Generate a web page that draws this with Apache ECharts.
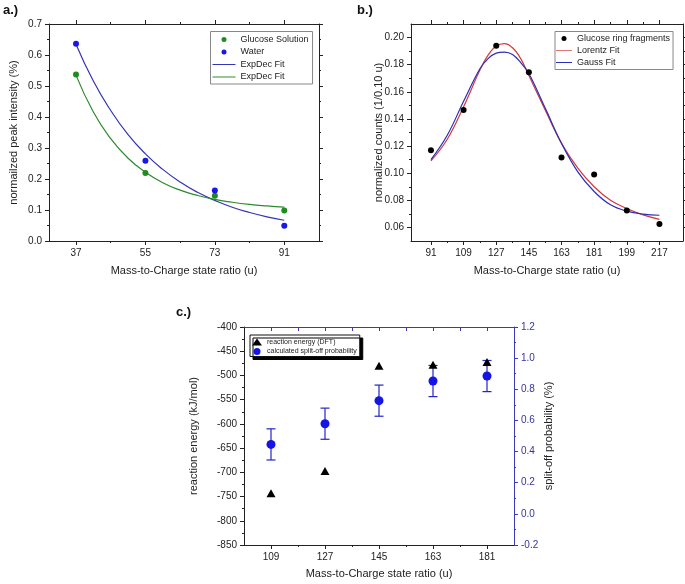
<!DOCTYPE html>
<html>
<head>
<meta charset="utf-8">
<script src="https://cdn.jsdelivr.net/npm/echarts@6/dist/echarts.min.js"></script>
<style>html,body{margin:0;padding:0;background:#fff}#c{width:685px;height:584px}</style>
</head>
<body>
<div id="c"></div>
<script>
// ---- Panel a data ----
const aX = [37, 55, 73, 91];
const aGlucose = [0.537, 0.219, 0.146, 0.098];
const aWater = [0.636, 0.259, 0.163, 0.049];
const aFitX = [37, 41.5, 46, 50.5, 55, 59.5, 64, 68.5, 73, 77.5, 82, 86.5, 91];
const aFitWater = [0.635, 0.516, 0.421, 0.343, 0.281, 0.231, 0.190, 0.157, 0.131, 0.109, 0.092, 0.078, 0.067];
const aFitGlucose = [0.535, 0.416, 0.330, 0.267, 0.222, 0.188, 0.164, 0.147, 0.134, 0.125, 0.118, 0.113, 0.109];
const aXTicks = [37, 55, 73, 91];
const aXMinor = [46, 64, 82];
const aYTicks = [0, 0.1, 0.2, 0.3, 0.4, 0.5, 0.6, 0.7];
const aYMinor = [0.05, 0.15, 0.25, 0.35, 0.45, 0.55, 0.65];

// ---- Panel b data ----
const bX = [91, 109, 127, 145, 163, 181, 199, 217];
const bCounts = [0.117, 0.1465, 0.194, 0.1745, 0.1115, 0.099, 0.0725, 0.0625];
const bFitX = [91, 100, 109, 118, 122.5, 127, 131.5, 136, 140.5, 145, 154, 163, 172, 181, 190, 199, 208, 217];
const bLorentz = [0.109, 0.125, 0.149, 0.176, 0.187, 0.1937, 0.1955, 0.1925, 0.1845, 0.172, 0.1466, 0.122, 0.1037, 0.090, 0.080, 0.074, 0.0693, 0.066];
const bGauss = [0.110, 0.128, 0.153, 0.177, 0.1845, 0.1885, 0.1893, 0.1875, 0.1815, 0.1735, 0.148, 0.122, 0.101, 0.0865, 0.0767, 0.072, 0.0698, 0.069];
const bXTicks = [91, 109, 127, 145, 163, 181, 199, 217];
const bXMinor = [100, 118, 136, 154, 172, 190, 208];
const bYTicks = [0.06, 0.08, 0.10, 0.12, 0.14, 0.16, 0.18, 0.20];
const bYMinor = [0.07, 0.09, 0.11, 0.13, 0.15, 0.17, 0.19];

// ---- Panel c data ----
const cX = [109, 127, 145, 163, 181];
const cEnergy = [-743, -697, -480, -478, -472];
const cProb = [0.446, 0.579, 0.727, 0.853, 0.885];
const cErr = [0.10, 0.10, 0.10, 0.10, 0.10];
const cXTicks = [109, 127, 145, 163, 181];
const cXMinor = [118, 136, 154, 172];
const cXTop = [109, 118, 127, 136, 145, 154, 163, 172, 181];
const cYLTicks = [-850, -800, -750, -700, -650, -600, -550, -500, -450, -400];
const cYLMinor = [-825, -775, -725, -675, -625, -575, -525, -475, -425];
const cYRTicks = [-0.2, 0, 0.2, 0.4, 0.6, 0.8, 1.0, 1.2];
const cYRMinor = [-0.1, 0.1, 0.3, 0.5, 0.7, 0.9, 1.1];

const FONT = 'Liberation Sans, Arial, sans-serif';
const AXC = '#222';
const CBLUE = '#3a3ab8';

const xAxes = [], yAxes = [];
function addAxis(list, grid, pos, range, majors, minors, o) {
  o = o || {};
  const color = o.color || AXC;
  const common = { type: 'value', gridIndex: grid, position: pos, min: range[0], max: range[1],
    splitLine: { show: false }, scale: false };
  const major = Object.assign({}, common, {
    axisLine: { show: true, onZero: false, lineStyle: { color: color, width: 1 } },
    axisTick: { show: true, inside: !!o.inside, length: o.len || 4, customValues: majors, lineStyle: { color: color, width: 1 } },
    axisLabel: o.labels ? { show: true, customValues: majors, formatter: o.fmt, color: o.labelColor || '#222',
      fontSize: 10, margin: o.margin || 7, fontFamily: FONT, showMinLabel: true, showMaxLabel: true } : { show: false },
    name: o.name || '', nameLocation: 'middle', nameGap: o.nameGap || 0, nameRotate: o.nameRotate || 0,
    nameMoveOverlap: false,
    nameTextStyle: { fontSize: 11, fontFamily: FONT, color: '#222' }
  });
  list.push(major);
  const idx = list.length - 1;
  if (minors && minors.length) {
    list.push(Object.assign({}, common, {
      axisLine: { show: false, onZero: false },
      axisTick: { show: true, inside: !!o.inside, length: o.minorLen || 2, customValues: minors, lineStyle: { color: color, width: 1 } },
      axisLabel: { show: false }
    }));
  }
  return idx;
}

// Panel a axes
const aXi = addAxis(xAxes, 0, 'bottom', [30, 100], aXTicks, aXMinor,
  { labels: true, fmt: v => String(v), name: 'Mass-to-Charge state ratio (u)', nameGap: 24.5 });
addAxis(xAxes, 0, 'top', [30, 100], aXTicks, aXMinor, {});
const aYi = addAxis(yAxes, 0, 'left', [0, 0.7], aYTicks, aYMinor,
  { labels: true, fmt: v => v.toFixed(1), name: 'normailzed peak intensity (%)', nameGap: 29.5, nameRotate: 90 });
addAxis(yAxes, 0, 'right', [0, 0.7], aYTicks, aYMinor, {});

// Panel b axes
const bXi = addAxis(xAxes, 1, 'bottom', [80, 230], bXTicks, bXMinor,
  { labels: true, fmt: v => String(v), name: 'Mass-to-Charge state ratio (u)', nameGap: 24.5 });
addAxis(xAxes, 1, 'top', [80, 230], bXTicks, bXMinor, {});
const bYi = addAxis(yAxes, 1, 'left', [0.05, 0.21], bYTicks, bYMinor,
  { labels: true, fmt: v => v.toFixed(2), name: 'normalized counts (1/0.10 u)', nameGap: 26.5, nameRotate: 90 });
addAxis(yAxes, 1, 'right', [0.05, 0.21], bYTicks, bYMinor, {});

// Panel c axes
const cXi = addAxis(xAxes, 2, 'bottom', [100, 190], cXTicks, cXMinor,
  { labels: true, fmt: v => String(v), name: 'Mass-to-Charge state ratio (u)', nameGap: 23.5 });
addAxis(xAxes, 2, 'top', [100, 190], cXTop, [], { color: CBLUE, inside: true });
const cYLi = addAxis(yAxes, 2, 'left', [-850, -400], cYLTicks, cYLMinor,
  { labels: true, fmt: v => String(v), name: 'reaction energy (kJ/mol)', nameGap: 44.5, nameRotate: 90 });
const cYRi = addAxis(yAxes, 2, 'right', [-0.2, 1.2], cYRTicks, cYRMinor,
  { labels: true, fmt: v => v.toFixed(1), color: CBLUE, labelColor: '#35359a',
    name: 'split-off probability (%)', nameGap: 29.5, nameRotate: 90 });

const LINE_A = 'path://M0,0 M46,10 M0,4 L46,4 L46,6 L0,6 Z';
const LINE_B = 'path://M0,0 M32,10 M0,4 L32,4 L32,6 L0,6 Z';

const option = {
  animation: false,
  backgroundColor: '#fff',
  textStyle: { fontFamily: FONT },
  grid: [
    { left: 49, top: 24, width: 270, height: 217, containLabel: false, outerBoundsMode: 'none' },
    { left: 411, top: 24, width: 272, height: 217, containLabel: false, outerBoundsMode: 'none' },
    { left: 244, top: 327, width: 270, height: 218, containLabel: false, outerBoundsMode: 'none' }
  ],
  xAxis: xAxes,
  yAxis: yAxes,
  legend: [
    { orient: 'vertical', left: 210.5, top: 31.5, padding: [3, 4, 2, 2], itemWidth: 23, itemHeight: 5, itemGap: 2.5,
      borderColor: '#888', borderWidth: 1, backgroundColor: '#fff',
      textStyle: { fontSize: 9, lineHeight: 10, color: '#222', fontFamily: FONT },
      data: [{ name: 'Glucose Solution', icon: 'circle' }, { name: 'Water', icon: 'circle' },
             { name: 'ExpDec Fit', icon: LINE_A }, { name: 'ExpDec Fit ', icon: LINE_A }] },
    { orient: 'vertical', left: 555, top: 31.5, padding: [2, 3, 2, 1], itemWidth: 16, itemHeight: 5, itemGap: 2,
      borderColor: '#888', borderWidth: 1, backgroundColor: '#fff',
      textStyle: { fontSize: 9, lineHeight: 10, color: '#222', fontFamily: FONT },
      data: [{ name: 'Glucose ring fragments', icon: 'circle' }, { name: 'Lorentz Fit', icon: LINE_B },
             { name: 'Gauss Fit', icon: LINE_B }] },
    { orient: 'vertical', left: 250, top: 335, padding: [3, 3, 1, 2], itemWidth: 10, itemHeight: 7, itemGap: 1.5,
      borderColor: '#111', borderWidth: 1, backgroundColor: '#fff',
      shadowColor: '#000', shadowBlur: 0, shadowOffsetX: 3, shadowOffsetY: 3,
      textStyle: { fontSize: 7, lineHeight: 8, color: '#222', fontFamily: FONT },
      data: [{ name: 'reaction energy (DFT)', icon: 'triangle' }, { name: 'calculated split-off probability', icon: 'circle' }] }
  ],
  graphic: [
    { type: 'text', left: 3, top: 4, style: { text: 'a.)', font: 'bold 13px ' + FONT, fill: '#111' } },
    { type: 'text', left: 357, top: 4, style: { text: 'b.)', font: 'bold 13px ' + FONT, fill: '#111' } },
    { type: 'text', left: 176, top: 306, style: { text: 'c.)', font: 'bold 13px ' + FONT, fill: '#111' } }
  ],
  series: [
    // Panel a
    { name: 'ExpDec Fit', type: 'line', xAxisIndex: aXi, yAxisIndex: aYi, symbol: 'none', smooth: true,
      lineStyle: { color: '#3434b4', width: 1.2 }, itemStyle: { color: '#3434b4' },
      data: aFitX.map((x, i) => [x, aFitWater[i]]), z: 2 },
    { name: 'ExpDec Fit ', type: 'line', xAxisIndex: aXi, yAxisIndex: aYi, symbol: 'none', smooth: true,
      lineStyle: { color: '#2e8a2e', width: 1.2 }, itemStyle: { color: '#2e8a2e' },
      data: aFitX.map((x, i) => [x, aFitGlucose[i]]), z: 2 },
    { name: 'Glucose Solution', type: 'scatter', xAxisIndex: aXi, yAxisIndex: aYi, symbol: 'circle', symbolSize: 6,
      itemStyle: { color: '#1f8c1f', opacity: 1 }, data: aX.map((x, i) => [x, aGlucose[i]]), z: 3 },
    { name: 'Water', type: 'scatter', xAxisIndex: aXi, yAxisIndex: aYi, symbol: 'circle', symbolSize: 6,
      itemStyle: { color: '#1717e6', opacity: 1 }, data: aX.map((x, i) => [x, aWater[i]]), z: 3 },
    // Panel b
    { name: 'Lorentz Fit', type: 'line', xAxisIndex: bXi, yAxisIndex: bYi, symbol: 'none', smooth: 0.4,
      lineStyle: { color: '#d23a3a', width: 1.2 }, itemStyle: { color: '#e07878' },
      data: bFitX.map((x, i) => [x, bLorentz[i]]), z: 2 },
    { name: 'Gauss Fit', type: 'line', xAxisIndex: bXi, yAxisIndex: bYi, symbol: 'none', smooth: 0.4,
      lineStyle: { color: '#2c2cb8', width: 1.2 }, itemStyle: { color: '#2c2cb8' },
      data: bFitX.map((x, i) => [x, bGauss[i]]), z: 2 },
    { name: 'Glucose ring fragments', type: 'scatter', xAxisIndex: bXi, yAxisIndex: bYi, symbol: 'circle', symbolSize: 6,
      itemStyle: { color: '#000', opacity: 1 }, data: bX.map((x, i) => [x, bCounts[i]]), z: 3 },
    // Panel c
    { name: 'errbars', type: 'custom', xAxisIndex: cXi, yAxisIndex: cYRi, z: 2, silent: true,
      data: cX.map((x, i) => [x, cProb[i] - cErr[i], cProb[i] + cErr[i]]),
      renderItem: function (params, api) {
        const x = api.value(0);
        const lo = api.coord([x, api.value(1)]);
        const hi = api.coord([x, api.value(2)]);
        const st = { stroke: '#2424c4', lineWidth: 1.2 };
        const hw = 4.5;
        return { type: 'group', children: [
          { type: 'line', shape: { x1: lo[0], y1: lo[1], x2: hi[0], y2: hi[1] }, style: st },
          { type: 'line', shape: { x1: lo[0] - hw, y1: lo[1], x2: lo[0] + hw, y2: lo[1] }, style: st },
          { type: 'line', shape: { x1: hi[0] - hw, y1: hi[1], x2: hi[0] + hw, y2: hi[1] }, style: st }
        ] };
      } },
    { name: 'calculated split-off probability', type: 'scatter', xAxisIndex: cXi, yAxisIndex: cYRi, symbol: 'circle',
      symbolSize: 9, itemStyle: { color: '#1414e6', opacity: 1 }, data: cX.map((x, i) => [x, cProb[i]]), z: 3 },
    { name: 'reaction energy (DFT)', type: 'scatter', xAxisIndex: cXi, yAxisIndex: cYLi, symbol: 'triangle',
      symbolSize: [9, 8], itemStyle: { color: '#000', opacity: 1 }, data: cX.map((x, i) => [x, cEnergy[i]]), z: 4 }
  ]
};
const chart = echarts.init(document.getElementById('c'), null, { renderer: 'canvas' });
chart.setOption(option);
</script>
</body>
</html>
